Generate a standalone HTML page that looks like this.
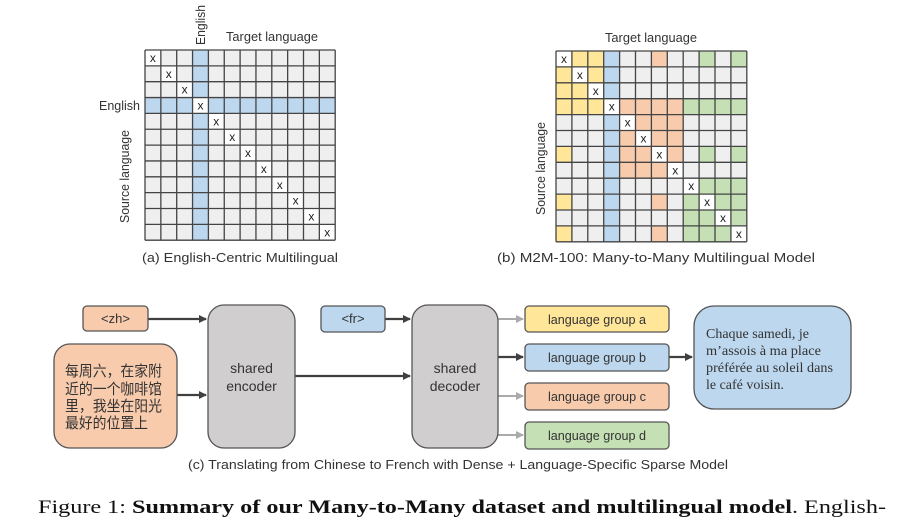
<!DOCTYPE html>
<html><head><meta charset="utf-8"><style>
html,body{margin:0;padding:0;background:#fff;}
svg{display:block;}
</style></head><body>
<svg width="904" height="523" viewBox="0 0 904 523" xmlns="http://www.w3.org/2000/svg" font-family="'Liberation Sans', sans-serif">
<defs>
<marker id="ad" markerWidth="8" markerHeight="8" refX="7" refY="4" orient="auto" markerUnits="userSpaceOnUse"><path d="M0,0 L8,4 L0,8 z" fill="#404040"/></marker>
<marker id="ag" markerWidth="8" markerHeight="8" refX="7" refY="4" orient="auto" markerUnits="userSpaceOnUse"><path d="M0,0 L8,4 L0,8 z" fill="#aaaaaa"/></marker>
</defs>

<!-- Grid A -->
<rect x="145" y="50" width="190.2" height="190.2" fill="#efefef"/>
<rect x="192.55" y="50" width="15.85" height="190.2" fill="#bdd7ee"/>
<rect x="145" y="97.55" width="190.2" height="15.85" fill="#bdd7ee"/>
<g fill="#fff">
<rect x="145" y="50" width="15.85" height="15.85"/>
<rect x="160.85" y="65.85" width="15.85" height="15.85"/>
<rect x="176.7" y="81.7" width="15.85" height="15.85"/>
<rect x="192.55" y="97.55" width="15.85" height="15.85"/>
<rect x="208.4" y="113.4" width="15.85" height="15.85"/>
<rect x="224.25" y="129.25" width="15.85" height="15.85"/>
<rect x="240.1" y="145.1" width="15.85" height="15.85"/>
<rect x="255.95" y="160.95" width="15.85" height="15.85"/>
<rect x="271.8" y="176.8" width="15.85" height="15.85"/>
<rect x="287.65" y="192.65" width="15.85" height="15.85"/>
<rect x="303.5" y="208.5" width="15.85" height="15.85"/>
<rect x="319.35" y="224.35" width="15.85" height="15.85"/>
</g>
<path stroke="#444" stroke-width="1.3" fill="none" d="
M145,50V240.2 M160.85,50V240.2 M176.7,50V240.2 M192.55,50V240.2 M208.4,50V240.2 M224.25,50V240.2 M240.1,50V240.2 M255.95,50V240.2 M271.8,50V240.2 M287.65,50V240.2 M303.5,50V240.2 M319.35,50V240.2 M335.2,50V240.2
M145,50H335.2 M145,65.85H335.2 M145,81.7H335.2 M145,97.55H335.2 M145,113.4H335.2 M145,129.25H335.2 M145,145.1H335.2 M145,160.95H335.2 M145,176.8H335.2 M145,192.65H335.2 M145,208.5H335.2 M145,224.35H335.2 M145,240.2H335.2"/>
<g font-size="12" text-anchor="middle" fill="#222">
<text x="152.9" y="62">x</text><text x="168.8" y="77.8">x</text><text x="184.6" y="93.7">x</text><text x="200.5" y="109.5">x</text>
<text x="216.3" y="125.4">x</text><text x="232.2" y="141.2">x</text><text x="248" y="157.1">x</text><text x="263.9" y="172.9">x</text>
<text x="279.7" y="188.8">x</text><text x="295.6" y="204.6">x</text><text x="311.4" y="220.5">x</text><text x="327.3" y="236.3">x</text>
</g>
<g font-size="13" fill="#333">
<text x="205" y="45" transform="rotate(-90 205 45)" textLength="40" lengthAdjust="spacingAndGlyphs">English</text>
<text x="226" y="41" textLength="92" lengthAdjust="spacingAndGlyphs">Target language</text>
<text x="99" y="110" textLength="41" lengthAdjust="spacingAndGlyphs">English</text>
<text x="129" y="223" transform="rotate(-90 129 223)" textLength="93" lengthAdjust="spacingAndGlyphs">Source language</text>
<text x="142" y="262" textLength="196" lengthAdjust="spacingAndGlyphs">(a) English-Centric Multilingual</text>
<text x="605" y="42" textLength="92" lengthAdjust="spacingAndGlyphs">Target language</text>
<text x="545" y="215" transform="rotate(-90 545 215)" textLength="93" lengthAdjust="spacingAndGlyphs">Source language</text>
<text x="497" y="262" textLength="318" lengthAdjust="spacingAndGlyphs">(b) M2M-100: Many-to-Many Multilingual Model</text>
</g>

<!-- Grid B -->
<rect x="556" y="51" width="190.8" height="190.8" fill="#efefef"/>
<rect x="603.7" y="51" width="15.9" height="190.8" fill="#bdd7ee"/>
<g fill="#ffe699">
<rect x="571.9" y="51" width="31.8" height="15.9"/>
<rect x="556" y="66.9" width="15.9" height="15.9"/><rect x="587.8" y="66.9" width="15.9" height="15.9"/>
<rect x="556" y="82.8" width="31.8" height="15.9"/>
<rect x="556" y="98.7" width="47.7" height="15.9"/>
<rect x="556" y="146.4" width="15.9" height="15.9"/>
<rect x="556" y="194.1" width="15.9" height="15.9"/>
<rect x="556" y="225.9" width="15.9" height="15.9"/>
</g>
<g fill="#f8cbad">
<rect x="651.4" y="51" width="15.9" height="15.9"/>
<rect x="619.6" y="98.7" width="63.6" height="15.9"/>
<rect x="635.5" y="114.6" width="47.7" height="15.9"/>
<rect x="619.6" y="130.5" width="63.6" height="15.9"/>
<rect x="619.6" y="146.4" width="63.6" height="15.9"/>
<rect x="619.6" y="162.3" width="47.7" height="15.9"/>
<rect x="651.4" y="194.1" width="15.9" height="15.9"/>
<rect x="651.4" y="225.9" width="15.9" height="15.9"/>
</g>
<g fill="#c5e0b4">
<rect x="699.1" y="51" width="15.9" height="15.9"/><rect x="730.9" y="51" width="15.9" height="15.9"/>
<rect x="683.2" y="98.7" width="63.6" height="15.9"/>
<rect x="699.1" y="146.4" width="15.9" height="15.9"/><rect x="730.9" y="146.4" width="15.9" height="15.9"/>
<rect x="699.1" y="178.2" width="47.7" height="15.9"/>
<rect x="683.2" y="194.1" width="63.6" height="15.9"/>
<rect x="683.2" y="210" width="63.6" height="15.9"/>
<rect x="683.2" y="225.9" width="63.6" height="15.9"/>
</g>
<g fill="#fff">
<rect x="556" y="51" width="15.9" height="15.9"/>
<rect x="571.9" y="66.9" width="15.9" height="15.9"/>
<rect x="587.8" y="82.8" width="15.9" height="15.9"/>
<rect x="603.7" y="98.7" width="15.9" height="15.9"/>
<rect x="619.6" y="114.6" width="15.9" height="15.9"/>
<rect x="635.5" y="130.5" width="15.9" height="15.9"/>
<rect x="651.4" y="146.4" width="15.9" height="15.9"/>
<rect x="667.3" y="162.3" width="15.9" height="15.9"/>
<rect x="683.2" y="178.2" width="15.9" height="15.9"/>
<rect x="699.1" y="194.1" width="15.9" height="15.9"/>
<rect x="715" y="210" width="15.9" height="15.9"/>
<rect x="730.9" y="225.9" width="15.9" height="15.9"/>
</g>
<path stroke="#444" stroke-width="1.3" fill="none" d="
M556,51V241.8 M571.9,51V241.8 M587.8,51V241.8 M603.7,51V241.8 M619.6,51V241.8 M635.5,51V241.8 M651.4,51V241.8 M667.3,51V241.8 M683.2,51V241.8 M699.1,51V241.8 M715,51V241.8 M730.9,51V241.8 M746.8,51V241.8
M556,51H746.8 M556,66.9H746.8 M556,82.8H746.8 M556,98.7H746.8 M556,114.6H746.8 M556,130.5H746.8 M556,146.4H746.8 M556,162.3H746.8 M556,178.2H746.8 M556,194.1H746.8 M556,210H746.8 M556,225.9H746.8 M556,241.8H746.8"/>
<g font-size="12" text-anchor="middle" fill="#222">
<text x="564" y="63">x</text><text x="579.9" y="78.9">x</text><text x="595.8" y="94.8">x</text><text x="611.7" y="110.7">x</text>
<text x="627.6" y="126.6">x</text><text x="643.5" y="142.5">x</text><text x="659.4" y="158.4">x</text><text x="675.3" y="174.3">x</text>
<text x="691.2" y="190.2">x</text><text x="707.1" y="206.1">x</text><text x="723" y="222">x</text><text x="738.9" y="237.9">x</text>
</g>

<!-- Bottom diagram -->
<g stroke="#404040" stroke-width="2.2" fill="none">
<path d="M148,319H206" marker-end="url(#ad)"/>
<path d="M177,395H206" marker-end="url(#ad)"/>
<path d="M295,376H410" marker-end="url(#ad)"/>
<path d="M385,319H410" marker-end="url(#ad)"/>
<path d="M498,357H523" marker-end="url(#ad)"/>
<path d="M669,357H692" marker-end="url(#ad)"/>
</g>
<g stroke="#aaaaaa" stroke-width="2" fill="none">
<path d="M498,319H523" marker-end="url(#ag)"/>
<path d="M498,396H523" marker-end="url(#ag)"/>
<path d="M498,435H523" marker-end="url(#ag)"/>
</g>
<g stroke="#555" stroke-width="1.3">
<rect x="83" y="306" width="65" height="25" rx="4" fill="#f8cbad"/>
<rect x="54" y="344" width="123" height="104" rx="16" fill="#f8cbad"/>
<rect x="208" y="305" width="87" height="143" rx="16" fill="#d0cece"/>
<rect x="321" y="306" width="64" height="26" rx="4" fill="#bdd7ee"/>
<rect x="412" y="305" width="86" height="143" rx="16" fill="#d0cece"/>
<rect x="525" y="306" width="144" height="26" rx="4" fill="#ffe699"/>
<rect x="525" y="344" width="144" height="27" rx="4" fill="#bdd7ee"/>
<rect x="525" y="383" width="144" height="27" rx="4" fill="#f8cbad"/>
<rect x="525" y="422" width="144" height="27" rx="4" fill="#c5e0b4"/>
<rect x="694" y="306" width="157" height="103" rx="20" fill="#bdd7ee"/>
</g>
<g font-size="13" fill="#333" text-anchor="middle">
<text x="115.5" y="323">&lt;zh&gt;</text>
<text x="353" y="323">&lt;fr&gt;</text>
<text x="251.5" y="373" font-size="14">shared</text>
<text x="251.5" y="391" font-size="14">encoder</text>
<text x="455" y="373" font-size="14">shared</text>
<text x="455" y="391" font-size="14">decoder</text>
<text x="597" y="324" textLength="98" lengthAdjust="spacingAndGlyphs">language group a</text>
<text x="597" y="362" textLength="98" lengthAdjust="spacingAndGlyphs">language group b</text>
<text x="597" y="401" textLength="98" lengthAdjust="spacingAndGlyphs">language group c</text>
<text x="597" y="440" textLength="98" lengthAdjust="spacingAndGlyphs">language group d</text>
</g>
<g font-size="15" fill="#333" font-family="'Liberation Sans','Noto Sans CJK SC',sans-serif">
<text x="65" y="376" textLength="97" lengthAdjust="spacingAndGlyphs">每周六，在家附</text>
<text x="65" y="394" textLength="97" lengthAdjust="spacingAndGlyphs">近的一个咖啡馆</text>
<text x="65" y="411" textLength="97" lengthAdjust="spacingAndGlyphs">里，我坐在阳光</text>
<text x="65" y="428" textLength="83" lengthAdjust="spacingAndGlyphs">最好的位置上</text>
</g>
<g font-size="14" fill="#333" font-family="'Liberation Serif',serif">
<text x="706" y="338" textLength="103" lengthAdjust="spacingAndGlyphs">Chaque samedi, je</text>
<text x="706" y="355" textLength="115" lengthAdjust="spacingAndGlyphs">m’assois à ma place</text>
<text x="706" y="372" textLength="127" lengthAdjust="spacingAndGlyphs">préférée au soleil dans</text>
<text x="706" y="389" textLength="78" lengthAdjust="spacingAndGlyphs">le café voisin.</text>
</g>
<text x="188" y="469" font-size="13" fill="#333" textLength="540" lengthAdjust="spacingAndGlyphs">(c) Translating from Chinese to French with Dense + Language-Specific Sparse Model</text>

<text x="38" y="513" font-size="19" fill="#111" font-family="'Liberation Serif',serif" textLength="848" lengthAdjust="spacingAndGlyphs">Figure 1: <tspan font-weight="bold">Summary of our Many-to-Many dataset and multilingual model</tspan>. English-</text>
</svg>
</body></html>
